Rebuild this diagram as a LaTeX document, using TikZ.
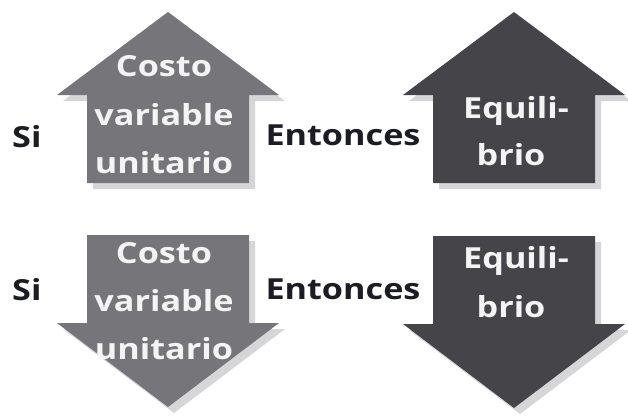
\documentclass[tikz,border=0pt]{standalone}
\usepackage{fontspec}
\setmainfont{Open Sans}
\newfontfamily\labfont[FakeStretch=1.18]{Open Sans}
\definecolor{arrowgray}{HTML}{76767A}
\definecolor{arrowdark}{HTML}{454449}
\definecolor{shadowc}{HTML}{D6D6D8}
\definecolor{inktext}{HTML}{1C1C24}
\definecolor{intext}{HTML}{F4F4F4}
\tikzset{
  upshape/.pic={
    \begin{scope}[shift={(6,6)}]
      \fill[shadowc] (0,0) -- (111,83) -- (81,83) -- (81,171) -- (-81,171) -- (-81,83) -- (-111,83) -- cycle;
    \end{scope}
    \fill[pic actions] (0,0) -- (111,83) -- (81,83) -- (81,171) -- (-81,171) -- (-81,83) -- (-111,83) -- cycle;
  },
  downshape/.pic={
    \begin{scope}[shift={(6,6)}]
      \fill[shadowc] (0,0) -- (111,-84) -- (81,-84) -- (81,-172) -- (-81,-172) -- (-81,-84) -- (-111,-84) -- cycle;
    \end{scope}
    \fill[pic actions] (0,0) -- (111,-84) -- (81,-84) -- (81,-172) -- (-81,-172) -- (-81,-84) -- (-111,-84) -- cycle;
  },
  outlbl/.style={anchor=base, inner sep=0pt, text=inktext, font=\labfont\bfseries\fontsize{29}{32}\selectfont},
  inlbl/.style={anchor=base, inner sep=0pt, text=intext, font=\labfont\bfseries\fontsize{29}{32}\selectfont},
}
\begin{document}
\begin{tikzpicture}[x=1pt,y=-1pt]
\useasboundingbox (0,0) rectangle (628,416);
\fill[white] (0,0) rectangle (628,416);
% arrows
\pic[fill=arrowgray] at (168,12) {upshape};
\pic[fill=arrowdark] at (514,12) {upshape};
\pic[fill=arrowgray] at (168,407) {downshape};
\pic[fill=arrowdark] at (514,408) {downshape};
% top row
\node[outlbl, anchor=base west] (si1) at (12,147) {Si};
\node[outlbl] (ent1) at (343,145) {Entonces};
\node[inlbl] (c1a) at (164,76) {Costo};
\node[inlbl] (c1b) at (164,125) {variable};
\node[inlbl] (c1c) at (164,173) {unitario};
\node[inlbl] (e1a) at (516,118) {Equili-};
\node[inlbl] (e1b) at (511,165) {brio};
% bottom row
\node[outlbl, anchor=base west] (si2) at (12,300) {Si};
\node[outlbl] (ent2) at (343,299) {Entonces};
\node[inlbl] (c2a) at (164,263) {Costo};
\node[inlbl] (c2b) at (164,311) {variable};
\node[inlbl] (c2c) at (164,359) {unitario};
\node[inlbl] (e2a) at (516,268) {Equili-};
\node[inlbl] (e2b) at (511,317) {brio};
\end{tikzpicture}
\end{document}
